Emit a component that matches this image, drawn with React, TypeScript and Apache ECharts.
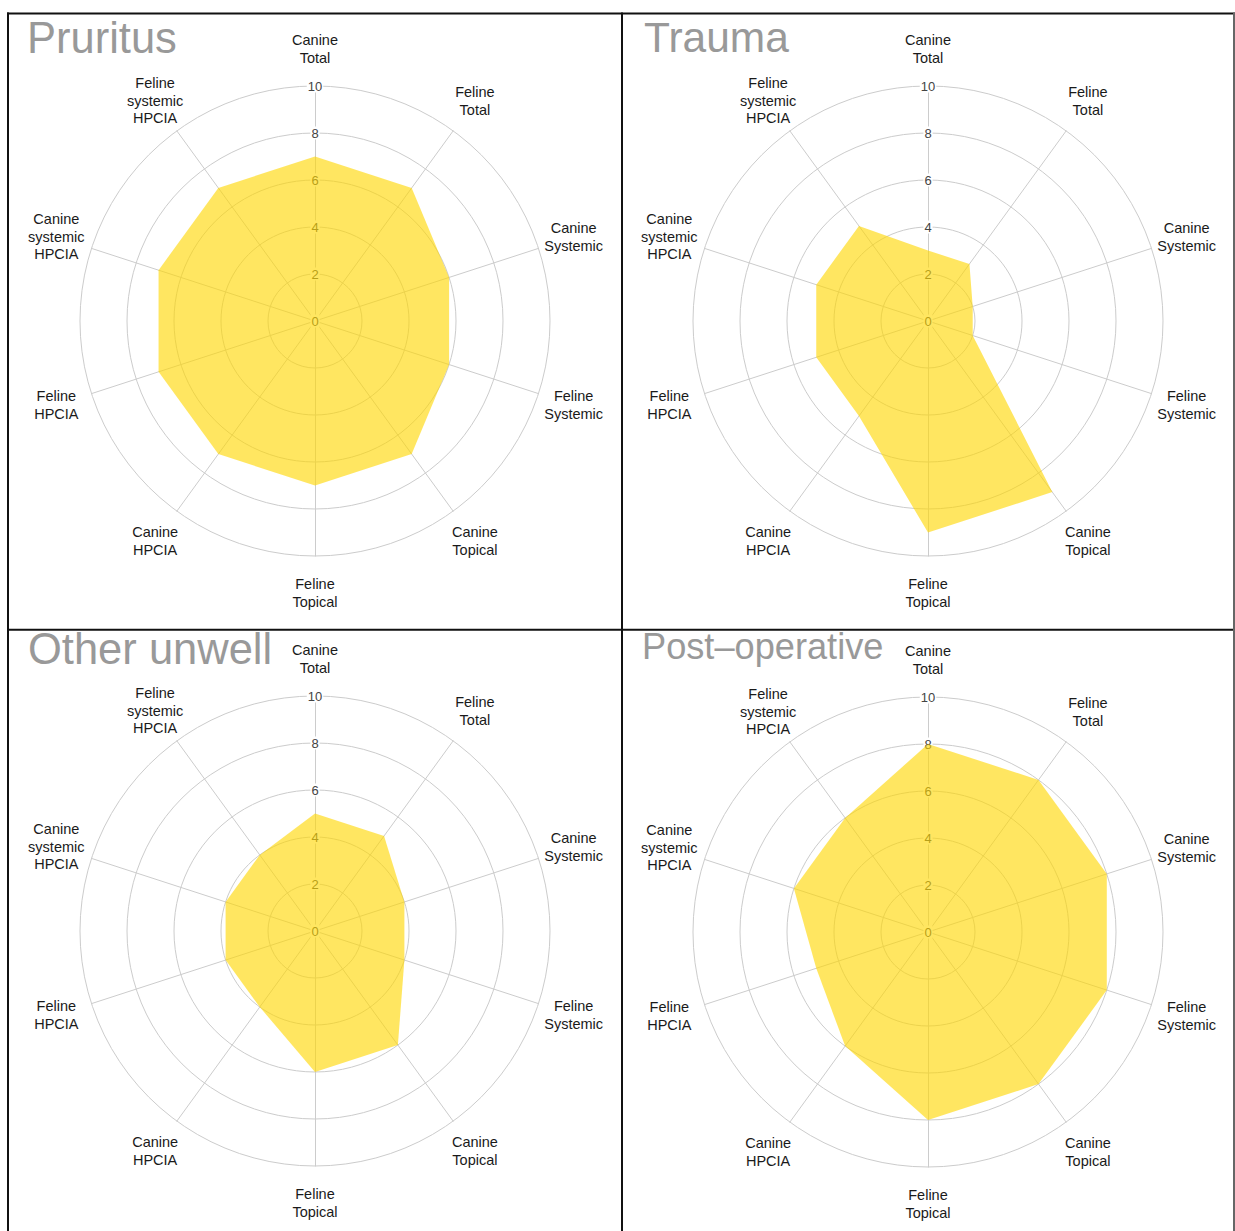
import React, { useEffect, useRef } from 'react';
import * as echarts from 'echarts';

// Spokes, listed clockwise from the top
const axisNames = [
  'Canine Total',
  'Feline Total',
  'Canine Systemic',
  'Feline Systemic',
  'Canine Topical',
  'Feline Topical',
  'Canine HPCIA',
  'Feline HPCIA',
  'Canine systemic HPCIA',
  'Feline systemic HPCIA',
];

const panelTitles = ['Pruritus', 'Trauma', 'Other unwell', 'Post–operative'];

// Scores per spoke, same clockwise order as axisNames
const pruritusValues = [7, 7, 6, 6, 7, 7, 7, 7, 7, 7];
const traumaValues = [3, 3, 2, 2, 9, 9, 5, 5, 5, 5];
const otherUnwellValues = [5, 5, 4, 4, 6, 6, 4, 4, 4, 4];
const postOperativeValues = [8, 8, 8, 8, 8, 8, 6, 5, 6, 6];

const scaleMin = 0;
const scaleMax = 10;
const scaleStep = 2;

const panelValues = [pruritusValues, traumaValues, otherUnwellValues, postOperativeValues];

// Layout of the four panels
const panels = [
  { cx: 315, cy: 321, titleLeft: 27, titleTop: 16, titleSize: 43.5 },
  { cx: 928, cy: 321, titleLeft: 644, titleTop: 16, titleSize: 42.5 },
  { cx: 315, cy: 931, titleLeft: 28, titleTop: 627, titleSize: 43.5 },
  { cx: 928, cy: 932, titleLeft: 642, titleTop: 628, titleSize: 36.2 },
];

const RADIUS = 235;
const FONT = '"Liberation Sans", Arial, Helvetica, sans-serif';
const GRID = '#cccccc';
const FILL = 'rgba(255, 215, 0, 0.62)';

// ECharts lays radar spokes out counter-clockwise; flip to clockwise
const ccwOrder = axisNames.map((_, i) => (i === 0 ? 0 : axisNames.length - i));

export default function App() {
  const ref = useRef<HTMLDivElement>(null);

  useEffect(() => {
    if (!ref.current) return;
    const chart = echarts.init(ref.current, undefined, { renderer: 'svg' });

    const indicator = ccwOrder.map((i) => ({ name: axisNames[i], min: scaleMin, max: scaleMax }));

    const radar = panels.map((p) => ({
      center: [p.cx, p.cy],
      radius: RADIUS,
      startAngle: 90,
      shape: 'circle',
      splitNumber: (scaleMax - scaleMin) / scaleStep,
      indicator,
      nameGap: 37,
      axisName: {
        show: true,
        color: '#1a1a1a',
        fontSize: 14.5,
        fontFamily: FONT,
        lineHeight: 17.5,
        align: 'center',
        verticalAlign: 'middle',
        formatter: (name: string) => name.split(' ').join('\n'),
      },
      axisLine: { show: true, lineStyle: { color: GRID, width: 1 } },
      axisTick: { show: false },
      axisLabel: { show: false },
      splitLine: { show: true, lineStyle: { color: GRID, width: 1 } },
      splitArea: { show: false },
      z: 0,
    }));

    const polar = panels.map((p) => ({ center: [p.cx, p.cy], radius: RADIUS }));
    const angleAxis = panels.map((_, i) => ({
      polarIndex: i,
      startAngle: 90,
      show: false,
      min: 0,
      max: 360,
    }));
    const radiusAxis = panels.map((_, i) => ({
      polarIndex: i,
      type: 'value',
      min: scaleMin,
      max: scaleMax,
      interval: scaleStep,
      z: 1,
      axisLine: { show: false },
      axisTick: { show: false },
      splitLine: { show: false },
      axisLabel: {
        show: true,
        margin: 0,
        align: 'center',
        verticalAlign: 'middle',
        color: '#444',
        fontSize: 13,
        fontFamily: FONT,
        backgroundColor: '#ffffff',
        padding: [0, 1],
        showMinLabel: true,
        showMaxLabel: true,
      },
    }));

    const series = panelValues.map((vals, i) => ({
      type: 'radar',
      radarIndex: i,
      symbol: 'none',
      z: 2,
      lineStyle: { width: 0 },
      areaStyle: { color: FILL, opacity: 1 },
      data: [{ value: ccwOrder.map((k) => vals[k]), name: panelTitles[i] }],
    }));

    const title = panels.map((p, i) => ({
      text: panelTitles[i],
      left: p.titleLeft,
      top: p.titleTop,
      padding: 0,
      textStyle: {
        color: '#999999',
        fontSize: p.titleSize,
        fontWeight: 'normal',
        fontFamily: FONT,
      },
    }));

    // Panel frame lines
    const graphic = [
      { type: 'line', shape: { x1: 7, y1: 13.5, x2: 1235, y2: 13.5 }, style: { stroke: '#111', lineWidth: 2 }, z: 10 },
      { type: 'line', shape: { x1: 8, y1: 12.5, x2: 8, y2: 1231 }, style: { stroke: '#111', lineWidth: 2 }, z: 10 },
      { type: 'line', shape: { x1: 622, y1: 12.5, x2: 622, y2: 1231 }, style: { stroke: '#111', lineWidth: 2 }, z: 10 },
      { type: 'line', shape: { x1: 7, y1: 629.7, x2: 1235, y2: 629.7 }, style: { stroke: '#111', lineWidth: 2 }, z: 10 },
      { type: 'line', shape: { x1: 1234, y1: 12.5, x2: 1234, y2: 1231 }, style: { stroke: '#666', lineWidth: 2 }, z: 10 },
    ];

    chart.setOption({
      animation: false,
      backgroundColor: '#ffffff',
      title,
      radar,
      polar,
      angleAxis,
      radiusAxis,
      series,
      graphic,
    });

    return () => chart.dispose();
  }, []);

  return (
    <div
      ref={ref}
      style={{ position: 'absolute', left: 0, top: 0, width: 1235, height: 1231 }}
    />
  );
}
